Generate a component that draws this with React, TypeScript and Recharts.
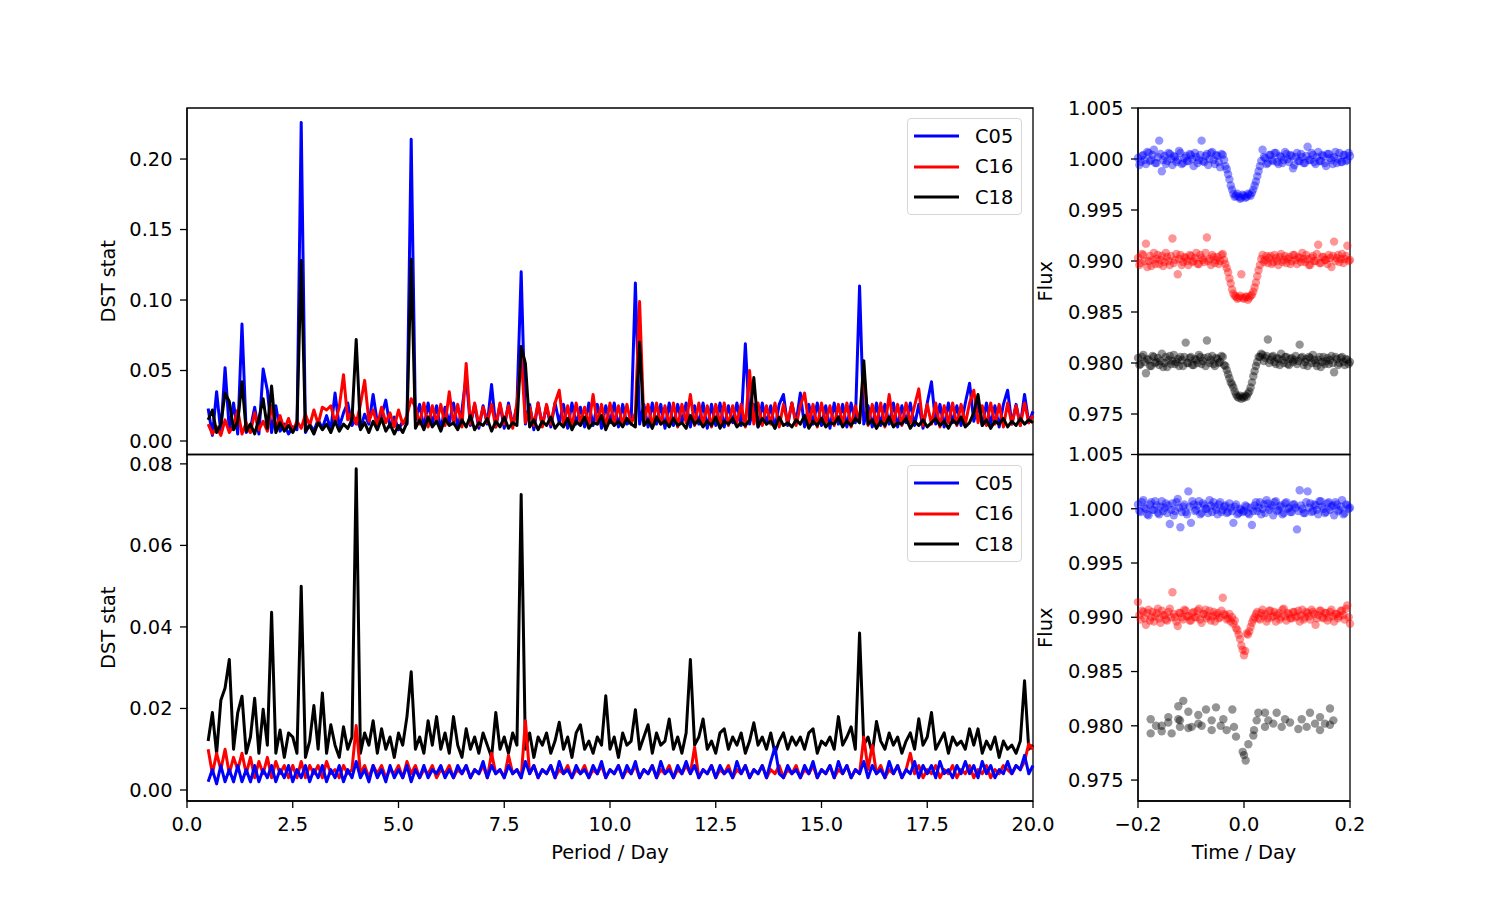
import React from "react";
import {
  LineChart,
  Line,
  XAxis,
  YAxis,
  ReferenceArea,
  Legend,
  ScatterChart,
  Scatter,
} from "recharts";

// ---- periodogram (left panels) ----
const PERIOD = [
  0.5, 0.6, 0.7, 0.8, 0.9, 1.0, 1.1, 1.2, 1.3, 1.4,
  1.5, 1.6, 1.7, 1.8, 1.9, 2.0, 2.1, 2.2, 2.3, 2.4,
  2.5, 2.6, 2.7, 2.8, 2.9, 3.0, 3.1, 3.2, 3.3, 3.4,
  3.5, 3.6, 3.7, 3.8, 3.9, 4.0, 4.1, 4.2, 4.3, 4.4,
  4.5, 4.6, 4.7, 4.8, 4.9, 5.0, 5.1, 5.2, 5.3, 5.4,
  5.5, 5.6, 5.7, 5.8, 5.9, 6.0, 6.1, 6.2, 6.3, 6.4,
  6.5, 6.6, 6.7, 6.8, 6.9, 7.0, 7.1, 7.2, 7.3, 7.4,
  7.5, 7.6, 7.7, 7.8, 7.9, 8.0, 8.1, 8.2, 8.3, 8.4,
  8.5, 8.6, 8.7, 8.8, 8.9, 9.0, 9.1, 9.2, 9.3, 9.4,
  9.5, 9.6, 9.7, 9.8, 9.9, 10.0, 10.1, 10.2, 10.3, 10.4,
  10.5, 10.6, 10.7, 10.8, 10.9, 11.0, 11.1, 11.2, 11.3, 11.4,
  11.5, 11.6, 11.7, 11.8, 11.9, 12.0, 12.1, 12.2, 12.3, 12.4,
  12.5, 12.6, 12.7, 12.8, 12.9, 13.0, 13.1, 13.2, 13.3, 13.4,
  13.5, 13.6, 13.7, 13.8, 13.9, 14.0, 14.1, 14.2, 14.3, 14.4,
  14.5, 14.6, 14.7, 14.8, 14.9, 15.0, 15.1, 15.2, 15.3, 15.4,
  15.5, 15.6, 15.7, 15.8, 15.9, 16.0, 16.1, 16.2, 16.3, 16.4,
  16.5, 16.6, 16.7, 16.8, 16.9, 17.0, 17.1, 17.2, 17.3, 17.4,
  17.5, 17.6, 17.7, 17.8, 17.9, 18.0, 18.1, 18.2, 18.3, 18.4,
  18.5, 18.6, 18.7, 18.8, 18.9, 19.0, 19.1, 19.2, 19.3, 19.4,
  19.5, 19.6, 19.7, 19.8, 19.9, 20.0,
];

const C05_TOP = [
  0.023, 0.004, 0.035, 0.006, 0.052, 0.008, 0.027, 0.005, 0.083, 0.006,
  0.009, 0.024, 0.005, 0.051, 0.036, 0.006, 0.025, 0.007, 0.012, 0.005,
  0.010, 0.008, 0.226, 0.006, 0.012, 0.007, 0.015, 0.009, 0.018, 0.008,
  0.034, 0.010, 0.020, 0.027, 0.011, 0.016, 0.009, 0.019, 0.012, 0.033,
  0.013, 0.018, 0.029, 0.010, 0.017, 0.008, 0.014, 0.012, 0.214, 0.015,
  0.026, 0.009, 0.027, 0.012, 0.025, 0.008, 0.024, 0.013, 0.027, 0.010,
  0.022, 0.046, 0.011, 0.026, 0.009, 0.025, 0.012, 0.040, 0.010, 0.026,
  0.009, 0.027, 0.011, 0.025, 0.120, 0.012, 0.026, 0.008, 0.027, 0.011,
  0.025, 0.010, 0.027, 0.013, 0.026, 0.009, 0.027, 0.012, 0.024, 0.010,
  0.027, 0.011, 0.026, 0.009, 0.025, 0.013, 0.027, 0.010, 0.026, 0.012,
  0.014, 0.112, 0.012, 0.026, 0.010, 0.027, 0.012, 0.026, 0.009, 0.027,
  0.011, 0.026, 0.013, 0.027, 0.010, 0.025, 0.012, 0.027, 0.009, 0.026,
  0.011, 0.027, 0.010, 0.025, 0.013, 0.027, 0.011, 0.069, 0.012, 0.026,
  0.010, 0.027, 0.012, 0.025, 0.009, 0.026, 0.033, 0.011, 0.027, 0.013,
  0.034, 0.010, 0.026, 0.012, 0.027, 0.011, 0.025, 0.009, 0.027, 0.012,
  0.026, 0.010, 0.027, 0.013, 0.110, 0.012, 0.025, 0.010, 0.027, 0.011,
  0.026, 0.012, 0.027, 0.010, 0.025, 0.013, 0.027, 0.011, 0.026, 0.009,
  0.027, 0.042, 0.012, 0.026, 0.010, 0.027, 0.013, 0.025, 0.011, 0.027,
  0.041, 0.014, 0.026, 0.011, 0.027, 0.012, 0.025, 0.010, 0.026, 0.036,
  0.012, 0.026, 0.011, 0.033, 0.013, 0.021,
];

const C16_TOP = [
  0.012, 0.005, 0.010, 0.004, 0.015, 0.006, 0.011, 0.022, 0.005, 0.013,
  0.006, 0.020, 0.008, 0.014, 0.007, 0.025, 0.009, 0.018, 0.008, 0.016,
  0.007, 0.014, 0.009, 0.019, 0.011, 0.022, 0.012, 0.024, 0.022, 0.025,
  0.013, 0.024, 0.047, 0.015, 0.021, 0.012, 0.026, 0.043, 0.014, 0.022,
  0.011, 0.024, 0.013, 0.020, 0.010, 0.022, 0.012, 0.018, 0.030, 0.024,
  0.012, 0.027, 0.010, 0.025, 0.013, 0.026, 0.011, 0.035, 0.012, 0.026,
  0.010, 0.055, 0.012, 0.027, 0.011, 0.024, 0.013, 0.026, 0.010, 0.027,
  0.012, 0.025, 0.009, 0.027, 0.060, 0.013, 0.024, 0.011, 0.027, 0.010,
  0.026, 0.012, 0.027, 0.036, 0.011, 0.025, 0.010, 0.027, 0.013, 0.024,
  0.011, 0.033, 0.012, 0.026, 0.010, 0.027, 0.013, 0.025, 0.011, 0.026,
  0.012, 0.020, 0.099, 0.013, 0.026, 0.010, 0.027, 0.012, 0.025, 0.011,
  0.027, 0.010, 0.026, 0.013, 0.033, 0.011, 0.027, 0.012, 0.025, 0.010,
  0.026, 0.012, 0.027, 0.011, 0.025, 0.013, 0.026, 0.010, 0.050, 0.012,
  0.027, 0.011, 0.025, 0.012, 0.027, 0.010, 0.026, 0.013, 0.027, 0.011,
  0.025, 0.034, 0.012, 0.026, 0.010, 0.027, 0.013, 0.025, 0.011, 0.026,
  0.012, 0.027, 0.010, 0.025, 0.013, 0.050, 0.011, 0.026, 0.012, 0.027,
  0.010, 0.033, 0.012, 0.026, 0.011, 0.027, 0.013, 0.025, 0.037, 0.011,
  0.026, 0.012, 0.027, 0.010, 0.025, 0.013, 0.027, 0.011, 0.026, 0.012,
  0.027, 0.036, 0.013, 0.025, 0.011, 0.027, 0.012, 0.026, 0.010, 0.027,
  0.012, 0.025, 0.011, 0.027, 0.013, 0.018,
];

const C18_TOP = [
  0.015, 0.022, 0.006, 0.012, 0.034, 0.028, 0.008, 0.014, 0.042, 0.007,
  0.012, 0.005, 0.016, 0.030, 0.009, 0.039, 0.006, 0.013, 0.007, 0.011,
  0.006, 0.012, 0.128, 0.007, 0.011, 0.005, 0.013, 0.008, 0.012, 0.006,
  0.014, 0.007, 0.012, 0.009, 0.015, 0.072, 0.008, 0.013, 0.006, 0.014,
  0.008, 0.016, 0.007, 0.012, 0.005, 0.011, 0.006, 0.013, 0.129, 0.009,
  0.015, 0.008, 0.017, 0.010, 0.014, 0.007, 0.016, 0.011, 0.013, 0.008,
  0.015, 0.010, 0.018, 0.008, 0.013, 0.011, 0.016, 0.007, 0.014, 0.010,
  0.017, 0.009, 0.013, 0.011, 0.067, 0.055, 0.010, 0.015, 0.008, 0.014,
  0.011, 0.017, 0.009, 0.013, 0.010, 0.016, 0.008, 0.014, 0.011, 0.017,
  0.009, 0.013, 0.012, 0.018, 0.008, 0.015, 0.011, 0.014, 0.010, 0.016,
  0.012, 0.010, 0.070, 0.011, 0.015, 0.009, 0.017, 0.012, 0.014, 0.010,
  0.016, 0.011, 0.013, 0.009, 0.018, 0.012, 0.015, 0.010, 0.014, 0.011,
  0.017, 0.009, 0.014, 0.012, 0.016, 0.010, 0.013, 0.011, 0.015, 0.045,
  0.010, 0.016, 0.012, 0.014, 0.009, 0.017, 0.011, 0.013, 0.010, 0.015,
  0.012, 0.018, 0.009, 0.014, 0.011, 0.016, 0.010, 0.013, 0.012, 0.017,
  0.010, 0.014, 0.011, 0.016, 0.013, 0.057, 0.012, 0.015, 0.009, 0.014,
  0.011, 0.017, 0.010, 0.013, 0.012, 0.016, 0.009, 0.014, 0.011, 0.015,
  0.010, 0.013, 0.016, 0.011, 0.014, 0.009, 0.015, 0.012, 0.017, 0.010,
  0.013, 0.020, 0.033, 0.011, 0.015, 0.009, 0.014, 0.012, 0.016, 0.010,
  0.014, 0.011, 0.016, 0.012, 0.015, 0.013,
];

const C05_BOTTOM = [
  0.002, 0.005, 0.0015, 0.006, 0.002, 0.005, 0.002, 0.006, 0.002, 0.005,
  0.002, 0.006, 0.002, 0.005, 0.003, 0.006, 0.002, 0.005, 0.003, 0.006,
  0.002, 0.005, 0.003, 0.006, 0.002, 0.005, 0.003, 0.006, 0.002, 0.005,
  0.003, 0.006, 0.002, 0.005, 0.003, 0.007, 0.003, 0.005, 0.002, 0.006,
  0.003, 0.005, 0.002, 0.006, 0.003, 0.005, 0.003, 0.006, 0.002, 0.005,
  0.003, 0.006, 0.003, 0.005, 0.004, 0.006, 0.003, 0.005, 0.003, 0.006,
  0.004, 0.006, 0.003, 0.005, 0.004, 0.007, 0.003, 0.006, 0.004, 0.005,
  0.003, 0.006, 0.004, 0.005, 0.003, 0.007, 0.004, 0.006, 0.003, 0.005,
  0.004, 0.006, 0.003, 0.007, 0.004, 0.005, 0.003, 0.006, 0.004, 0.005,
  0.003, 0.006, 0.004, 0.007, 0.003, 0.005, 0.004, 0.006, 0.003, 0.006,
  0.004, 0.007, 0.003, 0.005, 0.004, 0.006, 0.003, 0.007, 0.004, 0.005,
  0.003, 0.006, 0.004, 0.007, 0.004, 0.006, 0.003, 0.005, 0.004, 0.006,
  0.003, 0.006, 0.004, 0.005, 0.003, 0.007, 0.004, 0.006, 0.003, 0.005,
  0.004, 0.006, 0.003, 0.007, 0.0105, 0.004, 0.003, 0.006, 0.004, 0.005,
  0.003, 0.006, 0.004, 0.007, 0.003, 0.005, 0.004, 0.006, 0.003, 0.007,
  0.004, 0.006, 0.003, 0.005, 0.004, 0.007, 0.003, 0.006, 0.004, 0.005,
  0.003, 0.007, 0.004, 0.006, 0.003, 0.005, 0.004, 0.007, 0.003, 0.006,
  0.004, 0.006, 0.003, 0.007, 0.004, 0.005, 0.003, 0.006, 0.004, 0.007,
  0.004, 0.006, 0.003, 0.007, 0.004, 0.006, 0.003, 0.005, 0.004, 0.007,
  0.004, 0.006, 0.005, 0.0085, 0.004, 0.006,
];

const C16_BOTTOM = [
  0.010, 0.004, 0.009, 0.005, 0.010, 0.004, 0.008, 0.005, 0.009, 0.004,
  0.008, 0.003, 0.007, 0.004, 0.008, 0.003, 0.007, 0.004, 0.006, 0.003,
  0.006, 0.003, 0.007, 0.003, 0.006, 0.004, 0.006, 0.003, 0.007, 0.004,
  0.005, 0.003, 0.006, 0.004, 0.005, 0.0158, 0.004, 0.006, 0.003, 0.006,
  0.004, 0.006, 0.003, 0.005, 0.004, 0.006, 0.003, 0.007, 0.004, 0.006,
  0.003, 0.005, 0.004, 0.006, 0.003, 0.005, 0.004, 0.006, 0.003, 0.005,
  0.004, 0.006, 0.003, 0.005, 0.004, 0.006, 0.003, 0.009, 0.004, 0.005,
  0.003, 0.0085, 0.004, 0.005, 0.003, 0.017, 0.004, 0.006, 0.003, 0.005,
  0.004, 0.006, 0.003, 0.005, 0.004, 0.006, 0.003, 0.005, 0.004, 0.006,
  0.003, 0.005, 0.004, 0.006, 0.003, 0.005, 0.004, 0.006, 0.003, 0.005,
  0.004, 0.006, 0.003, 0.005, 0.004, 0.006, 0.003, 0.005, 0.004, 0.006,
  0.003, 0.005, 0.004, 0.006, 0.004, 0.0105, 0.003, 0.005, 0.004, 0.006,
  0.003, 0.005, 0.004, 0.006, 0.003, 0.005, 0.004, 0.006, 0.003, 0.005,
  0.004, 0.006, 0.003, 0.005, 0.004, 0.006, 0.003, 0.005, 0.004, 0.006,
  0.003, 0.005, 0.004, 0.006, 0.003, 0.005, 0.004, 0.006, 0.003, 0.005,
  0.004, 0.006, 0.003, 0.005, 0.004, 0.013, 0.005, 0.011, 0.004, 0.006,
  0.003, 0.005, 0.004, 0.006, 0.003, 0.005, 0.009, 0.004, 0.006, 0.003,
  0.005, 0.004, 0.006, 0.003, 0.005, 0.004, 0.006, 0.003, 0.005, 0.004,
  0.006, 0.003, 0.005, 0.004, 0.006, 0.003, 0.005, 0.004, 0.006, 0.005,
  0.004, 0.006, 0.005, 0.007, 0.0113, 0.010,
];

const C18_BOTTOM = [
  0.012, 0.019, 0.009, 0.022, 0.025, 0.032, 0.010, 0.019, 0.023, 0.009,
  0.013, 0.0225, 0.009, 0.0198, 0.011, 0.0436, 0.009, 0.0147, 0.008, 0.014,
  0.013, 0.009, 0.050, 0.008, 0.012, 0.0207, 0.010, 0.0238, 0.009, 0.016,
  0.011, 0.008, 0.0155, 0.010, 0.013, 0.0788, 0.009, 0.014, 0.011, 0.017,
  0.009, 0.015, 0.010, 0.013, 0.008, 0.014, 0.011, 0.018, 0.029, 0.010,
  0.013, 0.009, 0.017, 0.011, 0.018, 0.010, 0.014, 0.009, 0.018, 0.011,
  0.008, 0.015, 0.010, 0.013, 0.009, 0.014, 0.011, 0.008, 0.019, 0.010,
  0.013, 0.009, 0.014, 0.011, 0.0725, 0.010, 0.014, 0.008, 0.013, 0.011,
  0.014, 0.009, 0.012, 0.0166, 0.010, 0.013, 0.008, 0.014, 0.016, 0.010,
  0.012, 0.009, 0.013, 0.011, 0.0231, 0.010, 0.013, 0.008, 0.014, 0.011,
  0.012, 0.0197, 0.010, 0.013, 0.016, 0.009, 0.014, 0.011, 0.012, 0.0174,
  0.010, 0.013, 0.009, 0.014, 0.032, 0.011, 0.013, 0.0174, 0.010, 0.012,
  0.009, 0.014, 0.015, 0.010, 0.013, 0.011, 0.014, 0.009, 0.012, 0.0165,
  0.011, 0.013, 0.010, 0.014, 0.009, 0.012, 0.014, 0.010, 0.013, 0.011,
  0.013, 0.010, 0.014, 0.015, 0.009, 0.012, 0.011, 0.013, 0.010, 0.018,
  0.011, 0.013, 0.0155, 0.010, 0.0385, 0.011, 0.013, 0.009, 0.0168, 0.012,
  0.010, 0.014, 0.011, 0.013, 0.009, 0.012, 0.014, 0.010, 0.0175, 0.011,
  0.013, 0.019, 0.010, 0.012, 0.014, 0.009, 0.013, 0.011, 0.012, 0.010,
  0.015, 0.011, 0.015, 0.009, 0.012, 0.010, 0.013, 0.008, 0.012, 0.010,
  0.011, 0.009, 0.012, 0.0268, 0.010, 0.011,
];

const PERIOD_TICKS = [0, 2.5, 5, 7.5, 10, 12.5, 15, 17.5, 20];
const DST_TICKS_TOP = [0, 0.05, 0.1, 0.15, 0.2];
const DST_TICKS_BOTTOM = [0, 0.02, 0.04, 0.06, 0.08];

// ---- folded light curves (right panels) ----
const TIME = [
  -0.2, -0.1975, -0.195, -0.1925, -0.19, -0.1875, -0.185, -0.1825,
  -0.18, -0.1775, -0.175, -0.1725, -0.17, -0.1675, -0.165, -0.1625,
  -0.16, -0.1575, -0.155, -0.1525, -0.15, -0.1475, -0.145, -0.1425,
  -0.14, -0.1375, -0.135, -0.1325, -0.13, -0.1275, -0.125, -0.1225,
  -0.12, -0.1175, -0.115, -0.1125, -0.11, -0.1075, -0.105, -0.1025,
  -0.1, -0.0975, -0.095, -0.0925, -0.09, -0.0875, -0.085, -0.0825,
  -0.08, -0.0775, -0.075, -0.0725, -0.07, -0.0675, -0.065, -0.0625,
  -0.06, -0.0575, -0.055, -0.0525, -0.05, -0.0475, -0.045, -0.0425,
  -0.04, -0.0375, -0.035, -0.0325, -0.03, -0.0275, -0.025, -0.0225,
  -0.02, -0.0175, -0.015, -0.0125, -0.01, -0.0075, -0.005, -0.0025,
  0.0, 0.0025, 0.005, 0.0075, 0.01, 0.0125, 0.015, 0.0175,
  0.02, 0.0225, 0.025, 0.0275, 0.03, 0.0325, 0.035, 0.0375,
  0.04, 0.0425, 0.045, 0.0475, 0.05, 0.0525, 0.055, 0.0575,
  0.06, 0.0625, 0.065, 0.0675, 0.07, 0.0725, 0.075, 0.0775,
  0.08, 0.0825, 0.085, 0.0875, 0.09, 0.0925, 0.095, 0.0975,
  0.1, 0.1025, 0.105, 0.1075, 0.11, 0.1125, 0.115, 0.1175,
  0.12, 0.1225, 0.125, 0.1275, 0.13, 0.1325, 0.135, 0.1375,
  0.14, 0.1425, 0.145, 0.1475, 0.15, 0.1525, 0.155, 0.1575,
  0.16, 0.1625, 0.165, 0.1675, 0.17, 0.1725, 0.175, 0.1775,
  0.18, 0.1825, 0.185, 0.1875, 0.19, 0.1925, 0.195, 0.1975,
  0.2,
];

const FLUX_C05_TOP = [
  1.0001, 0.9994, 0.9997, 1.0003, 1.0004, 0.9999, 0.9995, 1.0007, 1.0006, 0.9998,
  0.9999, 1.0004, 1.0009, 0.9996, 0.9996, 1.0002, 1.0018, 1.0005, 0.9988, 0.9999,
  1.0003, 0.9995, 0.9998, 1.0006, 1.0005, 1.0, 0.9994, 1.0003, 1.0002, 0.9997,
  0.9999, 1.0008, 1.0006, 0.9995, 0.9996, 1.0001, 1.0003, 0.9998, 0.9998, 1.0005,
  1.0004, 1.0, 0.9993, 1.0006, 1.0002, 0.9996, 0.9999, 1.0004, 1.0018, 0.9998,
  0.9997, 1.0003, 1.0005, 0.9994, 1.0, 1.0006, 1.0007, 0.9999, 0.9995, 1.0004,
  1.0003, 0.9997, 0.9992, 1.0005, 1.0004, 0.9999, 0.9993, 0.999, 0.9985, 0.998,
  0.9974, 0.997, 0.9966, 0.9963, 0.9964, 0.9966, 0.9963, 0.9961, 0.9962, 0.9965,
  0.9964, 0.9962, 0.9963, 0.9966, 0.9965, 0.9964, 0.9967, 0.997, 0.9974, 0.9978,
  0.9983, 0.9988, 0.9993, 0.9998, 1.0009, 1.0002, 1.0001, 0.9995, 0.9996, 1.0004,
  1.0004, 0.9999, 0.9998, 1.0006, 1.0006, 0.9997, 0.9995, 1.0003, 1.0002, 0.9996,
  0.9999, 1.0007, 1.0005, 1.0, 0.9997, 1.0004, 1.0003, 0.9991, 0.9994, 1.0002,
  1.0006, 0.9998, 0.9998, 1.0005, 1.0002, 0.9996, 0.9996, 1.0003, 1.0012, 0.9999,
  0.9999, 1.0006, 1.0004, 0.9997, 0.9995, 1.0002, 1.0007, 0.9998, 0.9998, 1.0004,
  1.0003, 0.9996, 0.9993, 1.0005, 1.0005, 1.0001, 0.9999, 0.9995, 1.0002, 1.0007,
  0.9996, 1.0, 1.0006, 0.9997, 0.9997, 1.0004, 1.0004, 0.9998, 0.9999, 1.0006,
  1.0003,
];

const FLUX_C16_TOP = [
  0.9903, 0.9896, 0.9898, 0.9907, 0.9906, 0.99, 0.9917, 0.9894, 0.99, 0.9905,
  0.9895, 0.9901, 0.9908, 0.9897, 0.9902, 0.9906, 0.9897, 0.9901, 0.9905, 0.9895,
  0.9899, 0.9908, 0.9904, 0.99, 0.9896, 0.9905, 0.9922, 0.9898, 0.9901, 0.9907,
  0.9887, 0.9902, 0.9906, 0.9896, 0.9899, 0.9904, 0.9903, 0.99, 0.9896, 0.9906,
  0.9905, 0.9899, 0.99, 0.9903, 0.9908, 0.9897, 0.9897, 0.9906, 0.9903, 0.9901,
  0.9899, 0.9908, 0.9923, 0.99, 0.9902, 0.9896, 0.9906, 0.9904, 0.9898, 0.9901,
  0.9904, 0.9897, 0.99, 0.9906, 0.9907, 0.9901, 0.9897, 0.9893, 0.9889, 0.9883,
  0.9878, 0.9872, 0.9868, 0.9866, 0.9865, 0.9863, 0.9864, 0.9866, 0.9887, 0.9864,
  0.9863, 0.9865, 0.9865, 0.9862, 0.9864, 0.9866, 0.9867, 0.987, 0.9874, 0.9879,
  0.9885, 0.9891, 0.9896, 0.9902, 0.9906, 0.9899, 0.9901, 0.9905, 0.9898, 0.9903,
  0.9905, 0.9897, 0.9899, 0.9906, 0.9903, 0.99, 0.9896, 0.9904, 0.9907, 0.9899,
  0.9901, 0.9905, 0.9898, 0.9902, 0.9904, 0.9897, 0.99, 0.9906, 0.9906, 0.9901,
  0.9897, 0.9904, 0.9903, 0.9899, 0.9908, 0.9902, 0.9899, 0.9906, 0.9902, 0.9896,
  0.9896, 0.9903, 0.9905, 0.99, 0.99, 0.9907, 0.9916, 0.9898, 0.9898, 0.9904,
  0.9904, 0.9901, 0.9901, 0.9897, 0.9906, 0.9903, 0.9894, 0.9905, 0.9919, 0.99,
  0.9903, 0.9906, 0.9899, 0.9902, 0.9907, 0.9898, 0.9902, 0.9905, 0.9915, 0.99,
  0.9901,
];

const FLUX_C18_TOP = [
  0.9805, 0.9798, 0.9799, 0.9806, 0.9808, 0.9801, 0.979, 0.9804, 0.9803, 0.9797,
  0.9797, 0.9807, 0.9806, 0.98, 0.9801, 0.9805, 0.9798, 0.9802, 0.9809, 0.9796,
  0.98, 0.9806, 0.9796, 0.9803, 0.9807, 0.9799, 0.9802, 0.9808, 0.9799, 0.9801,
  0.9804, 0.9797, 0.9806, 0.9803, 0.9797, 0.9806, 0.982, 0.98, 0.98, 0.9805,
  0.9806, 0.9798, 0.9798, 0.9804, 0.9803, 0.98, 0.9808, 0.9806, 0.9799, 0.9802,
  0.9805, 0.9797, 0.9822, 0.9806, 0.98, 0.9803, 0.9807, 0.9799, 0.9797, 0.9805,
  0.9804, 0.98, 0.9801, 0.9807, 0.9806, 0.9798, 0.9797, 0.9793, 0.9789, 0.9785,
  0.9781, 0.9779, 0.9776, 0.9772, 0.9769, 0.9767, 0.9766, 0.9768, 0.9765, 0.9767,
  0.9766, 0.9768, 0.9767, 0.977, 0.9772, 0.9776, 0.9781, 0.9787, 0.9792, 0.9797,
  0.9801, 0.9806, 0.9806, 0.9809, 0.9808, 0.9802, 0.9805, 0.9807, 0.9823, 0.98,
  0.9803, 0.9806, 0.9807, 0.9801, 0.9799, 0.9805, 0.9804, 0.9798, 0.9809, 0.9803,
  0.98, 0.9806, 0.9806, 0.9799, 0.9798, 0.9804, 0.9805, 0.9801, 0.9803, 0.9807,
  0.9799, 0.9802, 0.9818, 0.9805, 0.9806, 0.9798, 0.9801, 0.9804, 0.9797, 0.9806,
  0.9805, 0.98, 0.9808, 0.9803, 0.98, 0.9797, 0.9803, 0.9806, 0.9796, 0.9801,
  0.9806, 0.9799, 0.9802, 0.9805, 0.9799, 0.9803, 0.9807, 0.98, 0.9791, 0.9806,
  0.9804, 0.9798, 0.98, 0.9805, 0.9806, 0.9801, 0.9798, 0.9804, 0.9803, 0.9799,
  0.9801,
];

const FLUX_C05_BOTTOM = [
  1.0004, 0.9998, 0.9997, 1.0006, 1.0008, 1.0001, 1.0, 0.9995, 0.9994, 1.0004,
  1.0006, 0.9999, 0.9999, 1.0007, 1.0003, 0.9996, 0.9995, 1.0002, 1.0007, 0.9998,
  1.0001, 1.0005, 0.9996, 1.0003, 0.9986, 0.9999, 1.0005, 0.9994, 0.9998, 1.0006,
  1.0009, 1.0001, 0.9983, 0.9997, 1.0002, 1.0004, 0.9997, 0.9995, 1.0016, 1.0002,
  0.9987, 1.0007, 1.0004, 0.9998, 0.9999, 1.0003, 1.0007, 0.9995, 0.9996, 1.0005,
  1.0003, 1.0, 1.0, 0.9996, 1.0008, 1.0003, 0.9997, 1.0006, 1.0002, 0.9999,
  0.9995, 1.0004, 1.0006, 0.9997, 0.9999, 1.0002, 1.0003, 0.9996, 0.9997, 1.0005,
  1.0001, 0.9998, 0.9987, 1.0002, 1.0004, 0.9995, 0.9996, 1.0, 0.9999, 0.9997,
  0.9998, 1.0003, 1.0002, 0.9996, 0.9995, 1.0001, 0.9985, 0.9998, 1.0003, 1.0006,
  0.9998, 1.0001, 1.0006, 0.9995, 1.0, 1.0004, 0.9996, 1.0008, 1.0005, 0.9999,
  1.0001, 1.0003, 0.9994, 1.0006, 1.0007, 0.9998, 0.9999, 1.0002, 1.0003, 0.9995,
  0.9996, 1.0005, 1.0006, 1.0, 1.0001, 0.9997, 0.9997, 1.0004, 1.0004, 1.0001,
  0.9981, 0.9998, 1.0017, 1.0003, 1.0, 0.9996, 0.9996, 1.0006, 1.0016, 1.0001,
  1.0005, 0.9997, 0.9998, 1.0004, 1.0003, 0.9999, 0.9995, 1.0007, 1.0007, 1.0002,
  1.0, 0.9996, 0.9997, 1.0005, 1.0006, 0.9999, 1.0002, 1.0003, 0.9994, 1.0006,
  1.0004, 0.9998, 0.9999, 1.0002, 1.0008, 0.9995, 0.9996, 1.0004, 1.0003, 1.0,
  1.0001,
];

const FLUX_C16_BOTTOM = [
  0.9914, 0.9902, 0.9898, 0.9906, 0.9905, 0.9899, 0.9893, 0.9904, 0.9907, 0.9897,
  0.99, 0.9905, 0.9896, 0.9901, 0.9904, 0.9908, 0.9899, 0.9895, 0.9906, 0.9902,
  0.9902, 0.9898, 0.9897, 0.9905, 0.9908, 0.99, 0.9923, 0.9903, 0.99, 0.9896,
  0.9892, 0.9904, 0.9904, 0.99, 0.9898, 0.9907, 0.9906, 0.9901, 0.9901, 0.9897,
  0.9897, 0.9904, 0.9905, 0.99, 0.99, 0.9906, 0.9908, 0.9898, 0.9895, 0.9903,
  0.9903, 0.9907, 0.9899, 0.9901, 0.9906, 0.9897, 0.9901, 0.9905, 0.9896, 0.9902,
  0.9904, 0.9899, 0.99, 0.9906, 0.9918, 0.9903, 0.9902, 0.9898, 0.9899, 0.9903,
  0.9896, 0.99, 0.9894, 0.9897, 0.989, 0.9888, 0.9884, 0.988, 0.9874, 0.987,
  0.9865, 0.9869, 0.9885, 0.9884, 0.9887, 0.9891, 0.9895, 0.9898, 0.99, 0.9903,
  0.9905, 0.9899, 0.9898, 0.9904, 0.9907, 0.9901, 0.9903, 0.9896, 0.9899, 0.9906,
  0.9906, 0.99, 0.9901, 0.9905, 0.9896, 0.9902, 0.9904, 0.9898, 0.99, 0.9907,
  0.9908, 0.9901, 0.9897, 0.9904, 0.9903, 0.9899, 0.9899, 0.9905, 0.9905, 0.99,
  0.9901, 0.9906, 0.9896, 0.9902, 0.9907, 0.9898, 0.99, 0.9905, 0.9904, 0.9901,
  0.9898, 0.9907, 0.9905, 0.9903, 0.9893, 0.9899, 0.9902, 0.9906, 0.9906, 0.99,
  0.9899, 0.9904, 0.9904, 0.9897, 0.99, 0.9905, 0.9907, 0.9901, 0.9896, 0.9903,
  0.9903, 0.9899, 0.9901, 0.9906, 0.9906, 0.9902, 0.9898, 0.9908, 0.9911, 0.99,
  0.9894,
];

const TIME_C18_BOTTOM = [
  -0.1761, -0.1761, -0.166, -0.1553, -0.1553, -0.1428, -0.1428, -0.1365, -0.1239, -0.1239,
  -0.1208, -0.1208, -0.1145, -0.105, -0.105, -0.0987, -0.0862, -0.0862, -0.0799, -0.0717,
  -0.061, -0.061, -0.0528, -0.044, -0.039, -0.0327, -0.022, -0.0189, -0.0151, -0.0025,
  0.0, 0.0032, 0.0082, 0.0176, 0.0189, 0.0239, 0.027, 0.0396, 0.0396, 0.0459,
  0.0553, 0.0616, 0.0711, 0.0774, 0.0868, 0.1025, 0.1088, 0.1182, 0.1245, 0.134,
  0.1434, 0.1434, 0.1528, 0.1623, 0.1623, 0.1686,
];

const FLUX_C18_BOTTOM = [
  0.9806, 0.9793, 0.98, 0.98, 0.9795, 0.9808, 0.9803, 0.9793, 0.9818, 0.9806,
  0.9805, 0.9799, 0.9823, 0.9813, 0.9798, 0.9799, 0.981, 0.9802, 0.98, 0.9815,
  0.9805, 0.9796, 0.9817, 0.98, 0.9806, 0.9796, 0.9815, 0.9799, 0.979, 0.9776,
  0.9773, 0.9768, 0.9783, 0.9791, 0.9796, 0.9805, 0.9812, 0.9799, 0.9812, 0.9805,
  0.9802, 0.9812, 0.9799, 0.9806, 0.9803, 0.9797, 0.9806, 0.9799, 0.9812, 0.9802,
  0.9796, 0.9808, 0.9802, 0.9816, 0.9801, 0.9805,
];

const TIME_TICKS = [-0.2, 0, 0.2];
const FLUX_TICKS = [0.975, 0.98, 0.985, 0.99, 0.995, 1.0, 1.005];

const FONT = "DejaVu Sans, Verdana, sans-serif";
const FS = 19.4;
const AXIS_W = 1.3;
const LINE_W = 3;
const tickStyle = { fill: "#000", fontSize: FS, fontFamily: FONT };
const labelStyle = { fill: "#000", fontSize: FS, fontFamily: FONT };

const fmtTime = (v: number) =>
  v === 0 ? "0.0" : (v < 0 ? "\u2212" : "") + Math.abs(v).toFixed(1);

const topRows = PERIOD.map((p, i) => ({ p, c05: C05_TOP[i], c16: C16_TOP[i], c18: C18_TOP[i] }));
const bottomRows = PERIOD.map((p, i) => ({ p, c05: C05_BOTTOM[i], c16: C16_BOTTOM[i], c18: C18_BOTTOM[i] }));

const pts = (ts: number[], fs: number[]) => ts.map((t, i) => ({ t, f: fs[i] }));

function LegendBox({ payload }: any) {
  const items = [...(payload || [])].sort((a: any, b: any) => String(a.value).localeCompare(String(b.value)));
  return (
    <div
      style={{
        width: 115,
        height: 97,
        boxSizing: "border-box",
        border: "1px solid #d6d6d6",
        borderRadius: 4,
        background: "rgba(255,255,255,0.8)",
        paddingTop: 2,
      }}
    >
      {items.map((it: any) => (
        <div key={it.value} style={{ height: 30.5, display: "flex", alignItems: "center" }}>
          <svg width={45} height={6} style={{ marginLeft: 6, display: "block" }}>
            <line x1={0} x2={45} y1={3} y2={3} stroke={it.color} strokeWidth={2.8} />
          </svg>
          <span style={{ marginLeft: 16, fontSize: FS, fontFamily: FONT, color: "#000", lineHeight: 1 }}>
            {it.value}
          </span>
        </div>
      ))}
    </div>
  );
}

const dot = (color: string) => (props: any) =>
  <circle cx={props.cx} cy={props.cy} r={4.2} fill={color} fillOpacity={0.42} stroke="none" />;

function PeriodPanel({ rows, top, domain, ticks, order, showX }: any) {
  const height = showX ? 460 : 470;
  return (
    <div style={{ position: "absolute", left: 0, top }}>
      <LineChart
        width={1080}
        height={height}
        data={rows}
        margin={showX ? { top: 14.5, right: 47, bottom: 0, left: 0 } : { top: 108, right: 47, bottom: 15.5, left: 0 }}
      >
        <XAxis
          dataKey="p"
          type="number"
          domain={[0, 20]}
          ticks={PERIOD_TICKS}
          interval={0}
          hide={!showX}
          height={99}
          tickSize={7}
          tickMargin={9}
          stroke="#000"
          strokeWidth={AXIS_W}
          tick={tickStyle}
          tickFormatter={(v: number) => v.toFixed(1)}
          label={showX ? { value: "Period / Day", position: "insideBottom", offset: 41, ...labelStyle } : undefined}
        />
        <YAxis
          type="number"
          domain={domain}
          ticks={ticks}
          interval={0}
          allowDataOverflow
          width={187}
          tickSize={7}
          tickMargin={7.5}
          stroke="#000"
          strokeWidth={AXIS_W}
          tick={tickStyle}
          tickFormatter={(v: number) => v.toFixed(2)}
          label={{ value: "DST stat", angle: -90, position: "center", dx: 15, ...labelStyle }}
        />
        {order.map((s: any) => (
          <Line
            key={s.key}
            dataKey={s.key}
            name={s.name}
            stroke={s.color}
            strokeWidth={LINE_W}
            strokeLinejoin="round"
            type="linear"
            dot={false}
            activeDot={false}
            isAnimationActive={false}
          />
        ))}
        <ReferenceArea x1={0} x2={20} y1={domain[0]} y2={domain[1]} fill="none" stroke="#000" strokeWidth={AXIS_W} />
        <Legend
          layout="horizontal"
          verticalAlign="middle"
          align="center"
          content={<LegendBox />}
          wrapperStyle={{ left: 907, top: showX ? 25 : 118, width: 115, height: 97 }}
        />
      </LineChart>
    </div>
  );
}

function FluxPanel({ top, domain, series, showX }: any) {
  const height = showX ? 460 : 470;
  return (
    <div style={{ position: "absolute", left: 1030, top }}>
      <ScatterChart
        width={370}
        height={height}
        margin={showX ? { top: 14.5, right: 50, bottom: 0, left: 0 } : { top: 108, right: 50, bottom: 15.5, left: 0 }}
      >
        <XAxis
          dataKey="t"
          type="number"
          domain={[-0.2, 0.2]}
          ticks={TIME_TICKS}
          interval={0}
          hide={!showX}
          height={99}
          tickSize={7}
          tickMargin={9}
          stroke="#000"
          strokeWidth={AXIS_W}
          tick={tickStyle}
          tickFormatter={fmtTime}
          label={showX ? { value: "Time / Day", position: "insideBottom", offset: 41, ...labelStyle } : undefined}
        />
        <YAxis
          dataKey="f"
          type="number"
          domain={domain}
          ticks={FLUX_TICKS}
          interval={0}
          allowDataOverflow
          width={108}
          tickSize={7}
          tickMargin={7.5}
          stroke="#000"
          strokeWidth={AXIS_W}
          tick={tickStyle}
          tickFormatter={(v: number) => v.toFixed(3)}
          label={{ value: "Flux", angle: -90, position: "center", dx: -38.5, ...labelStyle }}
        />
        {series.map((s: any) => (
          <Scatter key={s.name} name={s.name} data={s.data} shape={dot(s.color)} isAnimationActive={false} />
        ))}
        <ReferenceArea x1={-0.2} x2={0.2} y1={domain[0]} y2={domain[1]} fill="none" stroke="#000" strokeWidth={AXIS_W} />
      </ScatterChart>
    </div>
  );
}

export default function App() {
  return (
    <div style={{ position: "absolute", left: 0, top: 0, width: 1500, height: 900, background: "#fff", fontFamily: FONT }}>
      <PeriodPanel
        rows={topRows}
        top={0}
        domain={[-0.00957, 0.2362]}
        ticks={DST_TICKS_TOP}
        showX={false}
        order={[
          { key: "c05", name: "C05", color: "#0000ff" },
          { key: "c16", name: "C16", color: "#ff0000" },
          { key: "c18", name: "C18", color: "#000000" },
        ]}
      />
      <PeriodPanel
        rows={bottomRows}
        top={440}
        domain={[-0.0027, 0.0823]}
        ticks={DST_TICKS_BOTTOM}
        showX
        order={[
          { key: "c18", name: "C18", color: "#000000" },
          { key: "c16", name: "C16", color: "#ff0000" },
          { key: "c05", name: "C05", color: "#0000ff" },
        ]}
      />
      <FluxPanel
        top={0}
        domain={[0.97103, 1.005]}
        showX={false}
        series={[
          { name: "C05", color: "#0000ff", data: pts(TIME, FLUX_C05_TOP) },
          { name: "C16", color: "#ff0000", data: pts(TIME, FLUX_C16_TOP) },
          { name: "C18", color: "#000000", data: pts(TIME, FLUX_C18_TOP) },
        ]}
      />
      <FluxPanel
        top={440}
        domain={[0.97307, 1.005]}
        showX
        series={[
          { name: "C05", color: "#0000ff", data: pts(TIME, FLUX_C05_BOTTOM) },
          { name: "C16", color: "#ff0000", data: pts(TIME, FLUX_C16_BOTTOM) },
          { name: "C18", color: "#000000", data: pts(TIME_C18_BOTTOM, FLUX_C18_BOTTOM) },
        ]}
      />
    </div>
  );
}
